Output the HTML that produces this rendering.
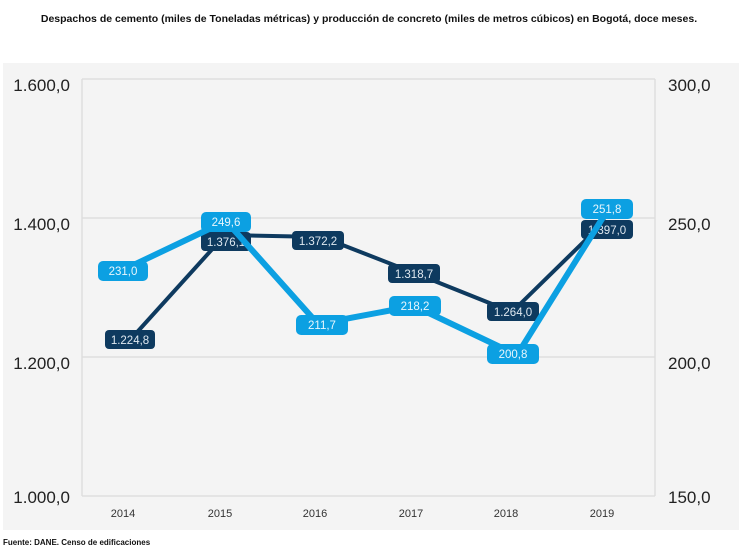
<!DOCTYPE html>
<html><head><meta charset="utf-8"><style>
body{margin:0;width:739px;height:550px;background:#fff;overflow:hidden;font-family:"Liberation Sans",sans-serif}
</style></head><body>
<svg width="739" height="550" xmlns="http://www.w3.org/2000/svg" font-family="Liberation Sans, sans-serif">
<text x="369" y="22" text-anchor="middle" font-size="10.5" font-weight="bold" fill="#111">Despachos de cemento (miles de Toneladas métricas) y producción de concreto (miles de metros cúbicos) en Bogotá, doce meses.</text>
<rect x="3" y="63" width="736" height="467" fill="#f4f4f4"/>
<g stroke="#dedede" stroke-width="1.5">
<line x1="82" y1="79" x2="655" y2="79"/><line x1="82" y1="218" x2="655" y2="218"/><line x1="82" y1="357" x2="655" y2="357"/><line x1="82" y1="496" x2="655" y2="496"/>
<line x1="82" y1="79" x2="82" y2="496"/><line x1="655" y1="79" x2="655" y2="496"/>
</g>
<g font-size="17" fill="#222" text-anchor="end">
<text x="70" y="91">1.600,0</text><text x="70" y="230">1.400,0</text><text x="70" y="369">1.200,0</text><text x="70" y="503">1.000,0</text>
</g>
<g font-size="17" fill="#222">
<text x="668" y="91">300,0</text><text x="668" y="230">250,0</text><text x="668" y="369">200,0</text><text x="668" y="503">150,0</text>
</g>
<g font-size="11" fill="#333" text-anchor="middle">
<text x="123" y="517">2014</text><text x="220" y="517">2015</text><text x="315" y="517">2016</text><text x="411" y="517">2017</text><text x="506" y="517">2018</text><text x="602" y="517">2019</text>
</g>
<polyline points="130,340 225,235 322,237 417,274 512,312 606,220" fill="none" stroke="#0e3a5f" stroke-width="4" stroke-linejoin="round"/>
<g fill="#0e3a5f"><rect x="105" y="330" width="50" height="19" rx="4"/><rect x="201" y="232" width="50" height="19" rx="4"/><rect x="292" y="231" width="52" height="19" rx="4"/><rect x="388" y="264" width="52" height="19" rx="4"/><rect x="487" y="302" width="52" height="19" rx="4"/><rect x="581" y="220" width="52" height="19" rx="4"/></g>
<g font-size="11.5" fill="#dfe8f0" text-anchor="middle">
<text x="130" y="344">1.224,8</text><text x="226" y="246">1.376,1</text><text x="318" y="245">1.372,2</text><text x="414" y="278">1.318,7</text><text x="513" y="316">1.264,0</text><text x="607" y="234">1.397,0</text>
</g>
<polyline points="123,270 226,221 318,324 414,306 517,355 607,211" fill="none" stroke="#0ca0e2" stroke-width="6" stroke-linejoin="round"/>
<g fill="#0ca0e2"><rect x="98" y="261" width="50" height="20" rx="5"/><rect x="201" y="212" width="50" height="20" rx="5"/><rect x="296" y="315" width="52" height="20" rx="5"/><rect x="389" y="296" width="52" height="20" rx="5"/><rect x="487" y="344" width="52" height="20" rx="5"/><rect x="581" y="199" width="52" height="20" rx="5"/></g>
<g font-size="11.5" fill="#e8f6fd" text-anchor="middle">
<text x="123" y="275">231,0</text><text x="226" y="226">249,6</text><text x="322" y="329">211,7</text><text x="415" y="310">218,2</text><text x="513" y="358">200,8</text><text x="607" y="213">251,8</text>
</g>
<text x="3" y="545" font-size="8" font-weight="bold" fill="#111">Fuente: DANE. Censo de edificaciones</text>
</svg>
</body></html>
